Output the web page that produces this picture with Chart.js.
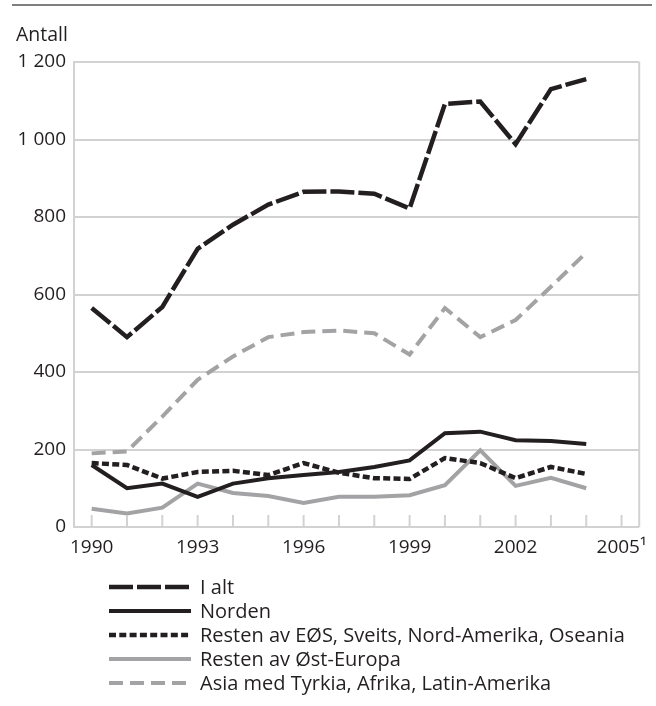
<!DOCTYPE html>
<html>
<head>
<meta charset="utf-8">
<script src="https://cdn.jsdelivr.net/npm/chart.js@4"></script>
<style>
  html, body { margin: 0; padding: 0; background: #fff; }
  canvas { display: block; }
</style>
</head>
<body>
<canvas id="chart" width="656" height="706"></canvas>
<script>
// DATA
const years = [1990, 1991, 1992, 1993, 1994, 1995, 1996, 1997, 1998, 1999, 2000, 2001, 2002, 2003, 2004];
const tickYears = [1990, 1991, 1992, 1993, 1994, 1995, 1996, 1997, 1998, 1999, 2000, 2001, 2002, 2003, 2004, 2005];
const xLabels = { 1990: '1990', 1993: '1993', 1996: '1996', 1999: '1999', 2002: '2002', 2005: '2005\u00B9' };
const yTicks = [0, 200, 400, 600, 800, 1000, 1200];
const yLabels = ['0', '200', '400', '600', '800', '1 000', '1 200'];
const seriesNames = ['I alt', 'Norden', 'Resten av EØS, Sveits, Nord-Amerika, Oseania', 'Resten av Øst-Europa', 'Asia med Tyrkia, Afrika, Latin-Amerika'];
const iAlt   = [565, 490, 568, 718, 780, 832, 865, 866, 860, 822, 1092, 1098, 988, 1130, 1156];
const norden = [160, 100, 112, 78, 112, 126, 134, 142, 155, 172, 242, 246, 224, 222, 214];
const eos    = [165, 160, 125, 142, 145, 134, 165, 140, 126, 124, 178, 165, 126, 155, 137];
const ost    = [47, 35, 50, 112, 88, 80, 62, 78, 78, 82, 108, 198, 106, 127, 100];
const asia   = [190, 195, 285, 380, 440, 490, 503, 507, 500, 445, 565, 490, 534, 620, 708];

const BLACK = '#231f20';
const GRAY = '#a3a3a5';
const GRID = '#d2d2d2';
const FONT = '"Open Sans", sans-serif';

function pts(vals) { return vals.map((v, i) => ({ x: years[i], y: v })); }

function line(label, vals, color, dash, width) {
    return {
        label: label, data: pts(vals), borderColor: color, borderDash: dash, borderWidth: width,
        pointRadius: 0, fill: false, tension: 0, borderJoinStyle: 'miter', borderCapStyle: 'butt'
    };
}

// extra drawing: rule, unit label, inner ticks, right border, legend
const decor = {
    id: 'decor',
    afterDraw(chart) {
        const ctx = chart.ctx;
        const a = chart.chartArea;
        ctx.save();
        ctx.strokeStyle = '#7f7f7f';
        ctx.lineWidth = 2;
        ctx.beginPath(); ctx.moveTo(12, 5); ctx.lineTo(652, 5); ctx.stroke();

        ctx.fillStyle = BLACK;
        ctx.font = '19.5px ' + FONT;
        ctx.textBaseline = 'alphabetic';
        ctx.fillText('Antall', 16, 41);

        ctx.strokeStyle = GRID;
        ctx.lineWidth = 2;
        ctx.beginPath(); ctx.moveTo(a.right, a.top); ctx.lineTo(a.right, a.bottom); ctx.stroke();
        const xs = chart.scales.x;
        tickYears.forEach(t => {
            const px = xs.getPixelForValue(t);
            ctx.beginPath(); ctx.moveTo(px, a.bottom); ctx.lineTo(px, a.bottom - 12); ctx.stroke();
        });

        ctx.font = '20px ' + FONT;
        chart.data.datasets.forEach((ds, i) => {
            const y = 587 + 24 * i;
            ctx.strokeStyle = ds.borderColor;
            ctx.lineWidth = ds.borderWidth;
            ctx.setLineDash(ds.borderDash || []);
            ctx.beginPath(); ctx.moveTo(109, y); ctx.lineTo(191, y); ctx.stroke();
            ctx.setLineDash([]);
            ctx.fillStyle = BLACK;
            ctx.fillText(ds.label, 200, y + 7);
        });
        ctx.restore();
    }
};

new Chart(document.getElementById('chart'), {
    type: 'line',
    data: {
        datasets: [
            line(seriesNames[0], iAlt, BLACK, [24, 4], 4.5),
            line(seriesNames[1], norden, BLACK, [], 4),
            line(seriesNames[2], eos, BLACK, [7, 3.3], 4.5),
            line(seriesNames[3], ost, GRAY, [], 4),
            line(seriesNames[4], asia, GRAY, [14, 7], 4)
        ]
    },
    options: {
        responsive: false,
        animation: false,
        devicePixelRatio: 1,
        layout: { padding: { left: 0, right: 13, top: 62, bottom: 144 } },
        plugins: { legend: { display: false }, tooltip: { enabled: false } },
        scales: {
            x: {
                type: 'linear', min: 1989.5, max: 2005.5,
                afterBuildTicks: s => { s.ticks = tickYears.map(v => ({ value: v })); },
                afterFit: s => { s.height = 35; },
                grid: { display: false, drawTicks: false },
                border: { display: false },
                ticks: {
                    autoSkip: false, maxRotation: 0, padding: 9, color: BLACK,
                    font: { family: FONT, size: 19 },
                    callback: v => xLabels[v] || ''
                }
            },
            y: {
                min: 0, max: 1200,
                afterBuildTicks: s => { s.ticks = yTicks.map(v => ({ value: v })); },
                afterFit: s => { s.width = 74; },
                grid: { color: GRID, lineWidth: 2, drawTicks: false },
                border: { display: true, color: GRID, width: 2 },
                ticks: {
                    padding: 8, color: BLACK,
                    font: { family: FONT, size: 19 },
                    callback: (v, i) => yLabels[yTicks.indexOf(v)]
                }
            }
        }
    },
    plugins: [decor]
});
</script>
</body>
</html>
